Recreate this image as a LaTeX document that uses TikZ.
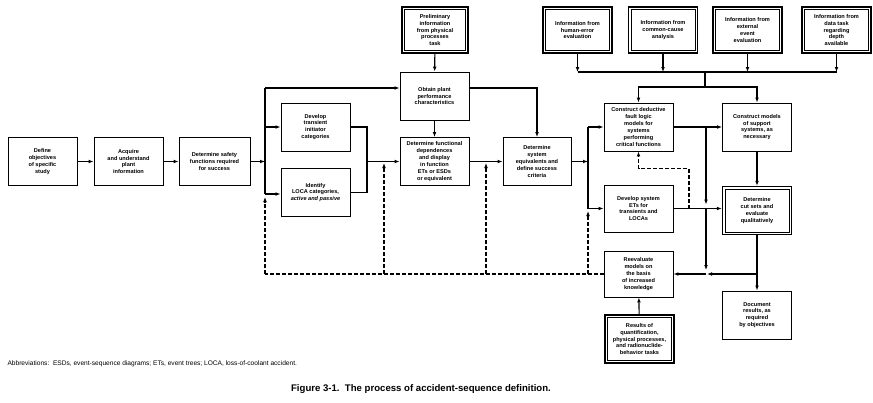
\documentclass[tikz,border=0pt]{standalone}
\usepackage{fontspec}
\setmainfont{Liberation Sans}
\usetikzlibrary{positioning}
\usetikzlibrary{arrows.meta}
\tikzset{
	every node/.style = {font=\bfseries\fontsize{5.6}{6.9}\selectfont, align=center},
	stepbox/.style = {draw, line width=0.9pt, minimum width=69pt, minimum height=48pt, inner sep=1pt},
	infobox/.style = {stepbox, line width=1.3pt, minimum height=46pt},
	inner/.style = {line width=0.7pt},
	wire/.style = {line width=1.1pt},
	flow/.style = {wire, -{Latex[length=5pt,width=3.8pt]}},
	backline/.style = {wire, dash pattern=on 4pt off 2pt},
	back/.style = {backline, -{Latex[length=5pt,width=3.8pt]}}
}

\begin{document}
\begin{tikzpicture}[x=1pt, y=-1pt]
	\useasboundingbox (0,0) rectangle (873,402);
	% main chain
	\node[stepbox] (define) at (42.5,161.5) {Define\\objectives\\of specific\\study};
	\node[stepbox] (acquire) at (128.5,161.5) {Acquire\\and understand\\plant\\information};
	\node[stepbox, minimum width=71pt] (safety) at (214.5,161.5) {Determine safety\\functions required\\for success};
	\node[stepbox] (transient) at (315.5,127) {Develop\\transient\\initiator\\categories};
	\node[stepbox] (loca) at (315.5,192.5) {Identify\\LOCA categories,\\\textit{active and passive}};
	\node[infobox, minimum width=66pt] (prelim) at (435,30) {Preliminary\\information\\from physical\\processes\\task};
	\node[stepbox] (obtain) at (434.5,96) {Obtain plant\\performance\\characteristics};
	\node[stepbox] (functional) at (434.5,161.5) {Determine functional\\dependences\\and display\\in function\\ETs or ESDs\\or equivalent};
	\node[stepbox, minimum width=68pt] (sysequiv) at (537,161.5) {Determine\\system\\equivalents and\\define success\\criteria};
	\node[stepbox] (deductive) at (638.5,127) {Construct deductive\\fault logic\\models for\\systems\\performing\\critical functions};
	\node[stepbox, minimum height=47pt] (etsys) at (638.5,208.5) {Develop system\\ETs for\\transients and\\LOCAs};
	\node[stepbox, minimum height=46pt] (reeval) at (638.5,274) {Reevaluate\\models on\\the basis\\of increased\\knowledge};
	\node[infobox, minimum height=48pt] (results) at (639.5,339) {Results of\\quantification,\\physical processes,\\and radionuclide-\\behavior tasks};
	\node[stepbox] (support) at (757,127) {Construct models\\of support\\systems, as\\necessary};
	\node[infobox, minimum height=48pt] (cutsets) at (757,210.5) {Determine\\cut sets and\\evaluate\\qualitatively};
	\node[stepbox] (document) at (757,315) {Document\\results, as\\required\\by objectives};
	% information sources
	\foreach \nm/\xx/\txt in {human/577.5/{Information from\\human-error\\evaluation},
		common/663/{Information from\\common-cause\\analysis},
		external/747.5/{Information from\\external\\event\\evaluation},
		data/836.5/{Information from\\data task\\regarding\\depth\\available}}
		\node[infobox] (\nm) at (\xx,30) {\txt};
	% inner frames of the double boxes
	\foreach \nm in {prelim, human, common, external, data, results, cutsets}
		\draw[inner] ([shift={(3pt,-3pt)}]\nm.north west) rectangle ([shift={(-3pt,3pt)}]\nm.south east);

	% junctions
	\coordinate (jA) at (265,88);
	\coordinate (jB) at (265,194);
	\coordinate (jC) at (367,161.5);
	\coordinate (jD) at (588,161.5);
	\coordinate (busL) at (577.5,72);
	\coordinate (busR) at (836.5,72);
	\coordinate (jF) at (705,72);
	\coordinate (jG) at (705,87);
	\coordinate (jH) at (706,127);
	\coordinate (jI) at (689,168.5);
	\coordinate (jJ) at (757,274);
	\coordinate (jK) at (706,274);
	\coordinate (fbA) at (265,274);
	\coordinate (fbB) at (384,274);
	\coordinate (fbC) at (486,274);
	\coordinate (fbD) at (588,274);

	% left part
	\draw[flow] (define) -- (acquire);
	\draw[flow] (acquire) -- (safety);
	\draw[flow] (safety) -- (safety -| jA);
	\draw[wire] (jA) -- (jB);
	\draw[flow] (jA) -- (jA -| obtain.west);
	\draw[flow] (jA |- transient) -- (transient);
	\draw[flow] (jB) -- (jB -| loca.west);
	\draw[wire] (transient.east) -| (jC) |- (loca.east);
	\draw[flow] (jC) -- (functional);
	\draw[flow] (prelim) -- (obtain);
	\draw[flow] (obtain) -- (functional);
	\draw[flow] (obtain.east |- jA) -| (sysequiv);
	\draw[flow] (functional) -- (sysequiv);

	% right part
	\draw[flow] (sysequiv) -- (jD);
	\draw[wire] (jD |- deductive) -- (jD |- etsys);
	\draw[flow] (jD |- deductive) -- (deductive);
	\draw[flow] (jD |- etsys) -- (etsys);
	\draw[wire] (busL) -- (busR);
	\foreach \nm in {human, common, external, data}
		\draw[flow] (\nm) -- (\nm |- busL);
	\draw[wire] (jF) -- (jG);
	\draw[flow] (jG) -| (deductive);
	\draw[flow] (jG) -| (support);
	\draw[flow] (deductive) -- (support);
	\draw[flow, shorten >=4pt] (jH) -- (jH |- etsys);
	\draw[flow, shorten >=4pt] (jH |- etsys) -- (jK);
	\draw[flow] (etsys.east) -- (etsys.east -| cutsets.west);
	\draw[back] (jI |- etsys) -- (jI) -| (deductive.south);
	\draw[flow] (support) -- (cutsets);
	\draw[flow] (cutsets) -- (document);
	\draw[flow, shorten >=1pt] (jJ) -- (jK);
	\draw[flow] (jK) -- (reeval);
	\draw[flow] (results) -- (reeval);

	% feedback
	\draw[backline] (reeval) -- (fbA);
	\draw[back] (fbA) -- +(0,-77);
	\draw[back] (fbB) -- +(0,-111);
	\draw[back] (fbC) -- +(0,-111);
	\draw[back] (fbD) -- +(0,-63);

	% notes
	\node[anchor=west, font=\fontsize{6.6}{7}\selectfont] (abbrev) at (4,364) {Abbreviations:\ \ ESDs, event-sequence diagrams; ETs, event trees; LOCA, loss-of-coolant accident.};
	\node[font=\bfseries\fontsize{9.6}{11}\selectfont] (caption) at (421,389) {Figure 3-1.\ \ The process of accident-sequence definition.};
\end{tikzpicture}
\end{document}
